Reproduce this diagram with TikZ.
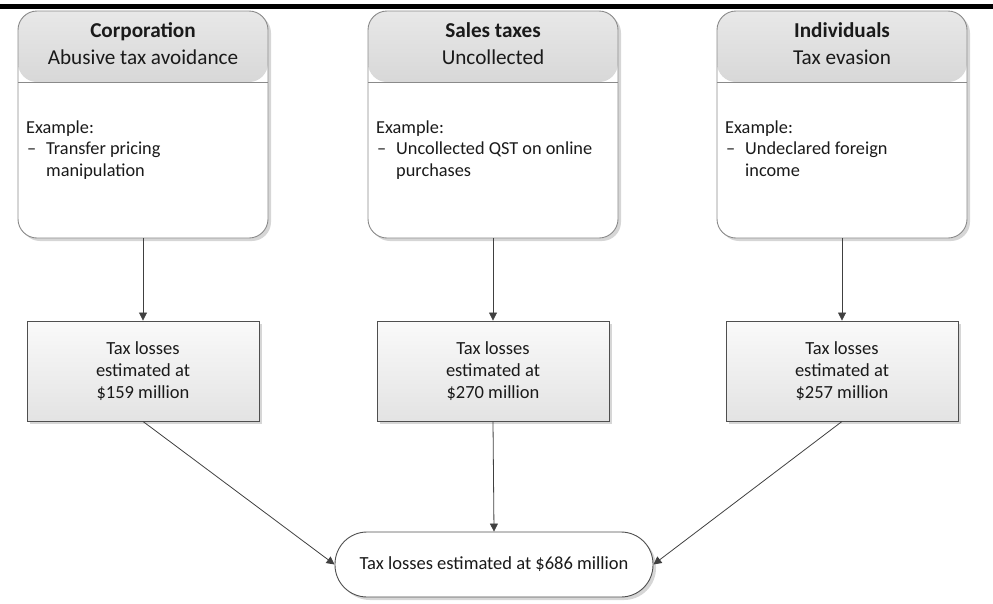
\documentclass[tikz,border=0pt]{standalone}
\usepackage{fontspec}
\setmainfont{Carlito}
\usetikzlibrary{shadows,arrows.meta}

\definecolor{frame}{HTML}{8A8A8A}
\definecolor{darkframe}{HTML}{4F4F4F}
\definecolor{hdlight}{HTML}{E8E8E8}
\definecolor{hddark}{HTML}{B4B4B4}
\definecolor{ink}{HTML}{1A1A1A}
\definecolor{wire}{HTML}{404040}

\tikzset{
  softshadow/.style={drop shadow={shadow xshift=3pt, shadow yshift=-3pt, fill=black!16, opacity=1}},
  % category card: rounded frame with a shaded header band
  card/.style={draw=frame, line width=0.9pt, fill=white, rounded corners=19pt,
    minimum width=250pt, minimum height=227pt, inner sep=0pt, softshadow,
    path picture={
      \shade[top color=hdlight, bottom color=hddark]
        (path picture bounding box.north west) rectangle
        ([yshift=-71pt]path picture bounding box.north east);
      \draw[frame, line width=0.9pt]
        ([yshift=-71pt]path picture bounding box.north west) --
        ([yshift=-71pt]path picture bounding box.north east);
    }},
  lossbox/.style={draw=darkframe, line width=0.9pt, top color=black!2, bottom color=black!11,
    minimum width=232pt, minimum height=100pt, inner sep=0pt, softshadow},
  totalbox/.style={draw=darkframe, line width=0.9pt, fill=white, rounded corners=32pt,
    minimum width=318pt, minimum height=65pt, inner sep=0pt, softshadow,
    font=\fontsize{18.5}{22}\selectfont, text=ink},
  hdtext/.style={inner sep=0pt, anchor=base, text=ink, font=\fontsize{21.2}{25}\selectfont},
  bodytext/.style={inner sep=0pt, anchor=base west, text=ink, font=\fontsize{18.3}{22}\selectfont},
  losstext/.style={inner sep=0pt, anchor=base, text=ink, font=\fontsize{18.5}{22}\selectfont},
  flow/.style={draw=wire, line width=0.8pt, -{Triangle[length=8pt,width=8pt]}},
}

\begin{document}
\begin{tikzpicture}[x=1pt, y=-1pt]
\useasboundingbox (0,0) rectangle (993,603);

% heading rule
\fill[black] (0,3.5) rectangle (993,8.5);

% category cards
\node[card] (corp)  at (143,124.5) {};
\node[card] (sales) at (493,124.5) {};
\node[card] (indiv) at (842,124.5) {};

\node[hdtext] (corpT)  at (143,37) {\bfseries Corporation};
\node[hdtext] (corpS)  at (143,64) {Abusive tax avoidance};
\node[hdtext] (salesT) at (493,37) {\bfseries Sales taxes};
\node[hdtext] (salesS) at (493,64) {Uncollected};
\node[hdtext] (indivT) at (842,37) {\bfseries Individuals};
\node[hdtext] (indivS) at (842,64) {Tax evasion};

\node[bodytext] (corpEx)  at (26,133) {Example:};
\node[bodytext] (corpD)   at (27,154.5) {–};
\node[bodytext] (corpL1)  at (46,154.5) {Transfer pricing};
\node[bodytext] (corpL2)  at (46,176.5) {manipulation};

\node[bodytext] (salesEx) at (376,133) {Example:};
\node[bodytext] (salesD)  at (377,154.5) {–};
\node[bodytext] (salesL1) at (396,154.5) {Uncollected QST on online};
\node[bodytext] (salesL2) at (396,176.5) {purchases};

\node[bodytext] (indivEx) at (725,133) {Example:};
\node[bodytext] (indivD)  at (726,154.5) {–};
\node[bodytext] (indivL1) at (745,154.5) {Undeclared foreign};
\node[bodytext] (indivL2) at (745,176.5) {income};

% estimated losses per category
\node[lossbox] (lossA) at (143,371) {};
\node[lossbox] (lossB) at (493,371) {};
\node[lossbox] (lossC) at (842,371) {};

\node[losstext] (lossA1) at (143,354) {Tax losses};
\node[losstext] (lossA2) at (143,376) {estimated at};
\node[losstext] (lossA3) at (143,398) {\$159 million};
\node[losstext] (lossB1) at (493,354) {Tax losses};
\node[losstext] (lossB2) at (493,376) {estimated at};
\node[losstext] (lossB3) at (493,398) {\$270 million};
\node[losstext] (lossC1) at (842,354) {Tax losses};
\node[losstext] (lossC2) at (842,376) {estimated at};
\node[losstext] (lossC3) at (842,398) {\$257 million};

% overall total
\node[totalbox] (total) at (494,564.5) {Tax losses estimated at \$686 million};

% connectors
\draw[flow] (corp.south)  -- (lossA.north);
\draw[flow] (sales.south) -- (lossB.north);
\draw[flow] (indiv.south) -- (lossC.north);
\draw[flow] (lossA.south) -- (total.west);
\draw[flow] (lossB.south) -- (total.north);
\draw[flow] (lossC.south) -- (total.east);
\end{tikzpicture}
\end{document}
